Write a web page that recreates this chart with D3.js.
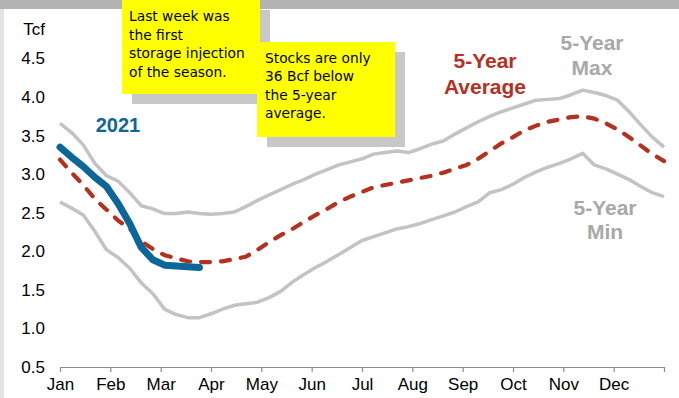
<!DOCTYPE html>
<html>
<head>
<meta charset="utf-8">
<script src="https://cdn.jsdelivr.net/npm/d3@7"></script>
<style>
  html, body { margin: 0; padding: 0; background: #ffffff; }
  svg { display: block; }
  .note { font-family: "DejaVu Sans", sans-serif; }
</style>
</head>
<body>
<svg id="chart" width="679" height="398"></svg>
<script>
// Working gas in storage, weekly, Tcf
const months = ["Jan","Feb","Mar","Apr","May","Jun","Jul","Aug","Sep","Oct","Nov","Dec"];
const yTicks = [0.5, 1.0, 1.5, 2.0, 2.5, 3.0, 3.5, 4.0, 4.5];

const fiveYearMax = [3.66,3.54,3.38,3.14,2.98,2.91,2.76,2.59,2.55,2.49,2.49,2.51,2.49,2.48,2.49,2.51,
  2.58,2.66,2.73,2.80,2.87,2.93,3.00,3.06,3.12,3.16,3.20,3.26,3.28,3.30,3.28,3.33,3.39,3.43,3.52,3.60,
  3.68,3.75,3.81,3.86,3.91,3.96,3.97,3.98,4.03,4.09,4.06,4.02,3.96,3.81,3.64,3.48,3.35];

const fiveYearAvg = [3.19,3.02,2.86,2.68,2.54,2.40,2.29,2.13,2.03,1.95,1.91,1.87,1.86,1.86,1.87,1.90,
  1.93,2.02,2.12,2.21,2.29,2.38,2.47,2.55,2.64,2.71,2.77,2.83,2.86,2.89,2.92,2.95,2.98,3.02,3.07,3.12,
  3.20,3.30,3.40,3.48,3.57,3.63,3.68,3.71,3.74,3.75,3.72,3.66,3.58,3.48,3.37,3.26,3.17];

const fiveYearMin = [2.64,2.56,2.47,2.26,2.02,1.92,1.78,1.59,1.45,1.25,1.18,1.14,1.14,1.19,1.25,1.30,
  1.32,1.34,1.40,1.48,1.60,1.70,1.79,1.87,1.96,2.05,2.14,2.19,2.24,2.29,2.32,2.36,2.41,2.46,2.51,2.58,
  2.64,2.76,2.80,2.87,2.96,3.03,3.09,3.14,3.20,3.27,3.12,3.07,3.00,2.93,2.84,2.76,2.71];

const stocks2021 = [3.35,3.22,3.10,2.96,2.84,2.62,2.36,2.05,1.89,1.82,1.81,1.80,1.79];

const note1 = ["Last week was", "the first", "storage injection", "of the season."];
const note2 = ["Stocks are only", "36 Bcf below", "the 5-year", "average."];

const svg = d3.select("#chart");
const W = 679, H = 398;

// frame: grey strip on top, light strip on the left
svg.append("rect").attr("x", 0).attr("y", 0).attr("width", W).attr("height", H).attr("fill", "#ffffff");
svg.append("rect").attr("x", 0).attr("y", 0).attr("width", W).attr("height", 9).attr("fill", "#b3b3b3");
svg.append("rect").attr("x", 0).attr("y", 9).attr("width", 4).attr("height", H - 9).attr("fill", "#e4e4e4");

const x = d3.scaleLinear().domain([0, 52]).range([60, 664]);
const xm = d3.scaleLinear().domain([0, 12]).range([60, 664]);
const y = d3.scaleLinear().domain([0.5, 4.5]).range([367, 58.5]);

const axisFont = "'Liberation Sans', Arial, sans-serif";

// y tick labels (no axis line)
const yAxis = svg.append("g").attr("transform", "translate(45,0)")
  .call(d3.axisLeft(y).tickValues(yTicks).tickSize(0).tickPadding(0).tickFormat(d3.format(".1f")));
yAxis.select(".domain").remove();
yAxis.selectAll("text").attr("font-family", axisFont).attr("font-size", 17).attr("fill", "#000");

svg.append("text").attr("x", 45).attr("y", 35).attr("text-anchor", "end")
  .attr("font-family", axisFont).attr("font-size", 17).attr("fill", "#000").text("Tcf");

// x axis with month labels under the ticks
const xAxis = svg.append("g").attr("transform", "translate(0,367)")
  .call(d3.axisBottom(xm).tickValues(d3.range(0, 13)).tickSize(5).tickSizeOuter(0).tickPadding(6)
    .tickFormat(i => i < 12 ? months[i] : ""));
xAxis.select(".domain").attr("stroke", "#8c8c8c").attr("stroke-width", 1.2);
xAxis.selectAll(".tick line").attr("stroke", "#8c8c8c").attr("stroke-width", 1.2);
xAxis.selectAll("text").attr("font-family", axisFont).attr("font-size", 17).attr("fill", "#000");

const line = d3.line().x((d, i) => x(i)).y(d => y(d)).curve(d3.curveLinear);

const g = svg.append("g").attr("fill", "none").attr("stroke-linejoin", "round");
g.append("path").datum(fiveYearMax).attr("d", line)
  .attr("stroke", "#c3c3c3").attr("stroke-width", 3.5);
g.append("path").datum(fiveYearMin).attr("d", line)
  .attr("stroke", "#c3c3c3").attr("stroke-width", 3.5);
g.append("path").datum(fiveYearAvg).attr("d", line)
  .attr("stroke", "#b5311f").attr("stroke-width", 4.2)
  .attr("stroke-dasharray", "9,11").attr("stroke-linecap", "round");
g.append("path").datum(stocks2021).attr("d", line)
  .attr("stroke", "#0b6699").attr("stroke-width", 7).attr("stroke-linecap", "round");

// series labels
const labelFont = "'Liberation Sans', Arial, sans-serif";
function label(lines, cx, y0, dy, color, size) {
  const t = svg.append("text").attr("text-anchor", "middle").attr("font-family", labelFont)
    .attr("font-weight", "bold").attr("font-size", size).attr("fill", color);
  lines.forEach((s, i) => t.append("tspan").attr("x", cx).attr("y", y0 + i * dy).text(s));
}
label(["2021"], 118, 132, 0, "#0b6699", 20);
label(["5-Year", "Average"], 485, 68, 26, "#b5311f", 21);
label(["5-Year", "Max"], 592, 50, 25, "#a8a8a8", 21);
label(["5-Year", "Min"], 605, 215, 24, "#a8a8a8", 21);

// callout notes with drop shadows
function note(lines, bx, by, bw, bh, tx, ty, dy) {
  svg.append("rect").attr("x", bx + 10).attr("y", by + 10).attr("width", bw).attr("height", bh)
    .attr("fill", "#c8c8c8");
  svg.append("rect").attr("x", bx).attr("y", by).attr("width", bw).attr("height", bh)
    .attr("fill", "#ffff00");
  const t = svg.append("text").attr("class", "note").attr("font-size", 13.8).attr("fill", "#000");
  lines.forEach((s, i) => t.append("tspan").attr("x", tx).attr("y", ty + i * dy).text(s));
}
note(note1, 122, 0, 138, 94, 129, 21, 18.5);
note(note2, 257, 42, 138, 95, 265, 63, 18.3);
</script>
</body>
</html>
